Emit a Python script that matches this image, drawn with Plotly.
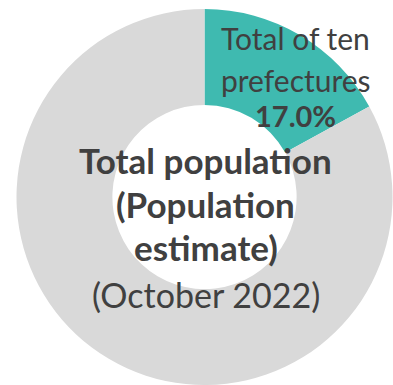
import plotly.graph_objects as go

# Share of the national population
labels = ["Total of ten prefectures", "Other prefectures"]
shares = [17.0, 83.0]
colors = ["#3FBAB0", "#D9D9D9"]

W, H = 393, 385
TEXT = "#404040"
FONT = "Lato"

fig = go.Figure(
    go.Pie(
        labels=labels,
        values=shares,
        hole=0.49,
        sort=False,
        direction="clockwise",
        rotation=0,
        marker=dict(colors=colors, line=dict(width=0)),
        textinfo="none",
        hoverinfo="label+percent",
        domain=dict(x=[16 / W, 1], y=[0, 1 - 9 / H]),
        showlegend=False,
    )
)


def px_x(x):
    return x / W


def px_y(y):
    return 1 - y / H


annotations = []

# Label on the highlighted slice
slice_lines = [
    ("Total of ten", 38.5, False, 30),
    ("prefectures", 80, False, 30),
    (f"{shares[0]:.1f}%", 115.5, True, 29),
]
for txt, y, bold, size in slice_lines:
    annotations.append(dict(
        x=px_x(295.5), y=px_y(y), xref="paper", yref="paper",
        text=f"<b>{txt}</b>" if bold else txt, showarrow=False,
        xanchor="center", yanchor="middle",
        font=dict(family=FONT, size=size, color=TEXT),
    ))

# Caption in the hole
center_lines = [
    ("Total population", 159.5, True, 35),
    ("(Population", 204, True, 35),
    ("estimate)", 247, True, 35),
    ("(October 2022)", 294, False, 34),
]
for txt, y, bold, size in center_lines:
    annotations.append(dict(
        x=px_x(205.5), y=px_y(y), xref="paper", yref="paper",
        text=f"<b>{txt}</b>" if bold else txt, showarrow=False,
        xanchor="center", yanchor="middle",
        font=dict(family=FONT, size=size, color=TEXT),
    ))

fig.update_layout(
    width=W, height=H,
    margin=dict(l=0, r=0, t=0, b=0),
    paper_bgcolor="white",
    plot_bgcolor="white",
    annotations=annotations,
)

fig.write_html("out.html")
